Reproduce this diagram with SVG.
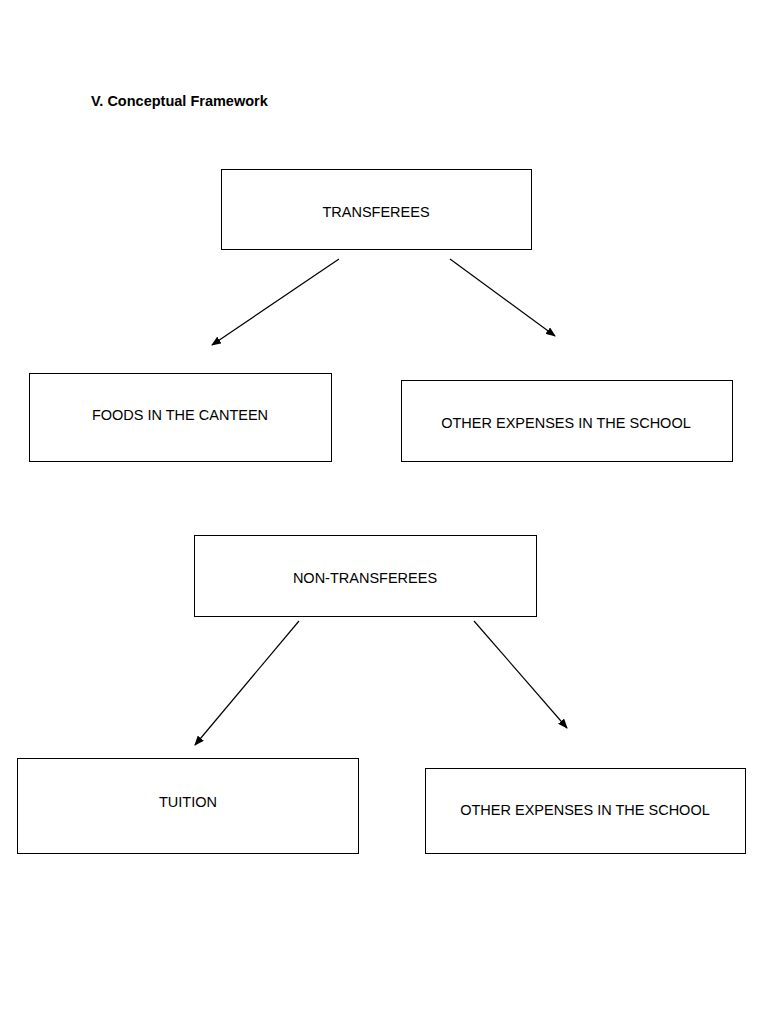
<svg xmlns="http://www.w3.org/2000/svg" width="768" height="1024" viewBox="0 0 768 1024">
<style>
.box{fill:#fff;stroke:#000;stroke-width:1}
.t{font-family:"Liberation Sans",Arial,sans-serif;font-size:14.5px;text-anchor:middle;fill:#000}
.c line{stroke:#000;stroke-width:1.2;marker-end:url(#ah)}
</style>
<defs><marker id="ah" markerWidth="10" markerHeight="8" refX="9" refY="4" orient="auto" markerUnits="userSpaceOnUse"><path d="M0,0 L10,4 L0,8 z" fill="#000"/></marker></defs>
<rect width="768" height="1024" fill="#fff"/>
<text x="91" y="106" style="font-family:'Liberation Sans',Arial,sans-serif;font-size:14.5px;font-weight:bold">V. Conceptual Framework</text>
<g id="transferees"><rect class="box" x="221.5" y="169.5" width="310" height="80"/><text class="t" x="376" y="217">TRANSFEREES</text></g>
<g id="foods"><rect class="box" x="29.5" y="373.5" width="302" height="88"/><text class="t" x="180" y="420">FOODS IN THE CANTEEN</text></g>
<g id="other1"><rect class="box" x="401.5" y="380.5" width="331" height="81"/><text class="t" x="566" y="428">OTHER EXPENSES IN THE SCHOOL</text></g>
<g id="nontransferees"><rect class="box" x="194.5" y="535.5" width="342" height="81"/><text class="t" x="365" y="583">NON-TRANSFEREES</text></g>
<g id="tuition"><rect class="box" x="17.5" y="758.5" width="341" height="95"/><text class="t" x="188" y="807">TUITION</text></g>
<g id="other2"><rect class="box" x="425.5" y="768.5" width="320" height="85"/><text class="t" x="585" y="815">OTHER EXPENSES IN THE SCHOOL</text></g>
<g class="c" id="connectors">
<line x1="339" y1="259" x2="212" y2="345"/>
<line x1="450" y1="259" x2="555" y2="336"/>
<line x1="299" y1="621" x2="195" y2="745"/>
<line x1="474" y1="621" x2="567" y2="728"/>
</g>
</svg>
